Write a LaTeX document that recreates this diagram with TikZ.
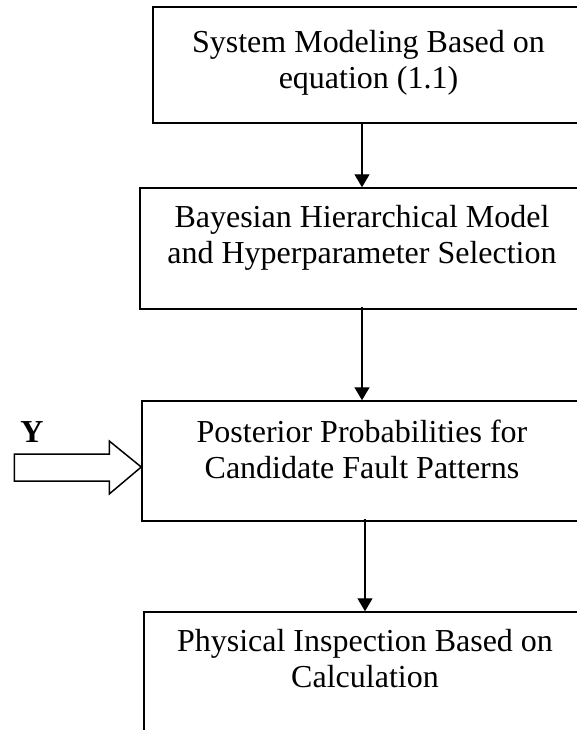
\documentclass[tikz,border=0pt]{standalone}
\usepackage{fontspec}
\setmainfont{Liberation Serif}
\usetikzlibrary{positioning, arrows.meta}

\tikzset{
  block/.style={draw, line width=0.75pt, rectangle, inner sep=0pt},
  blocktext/.style={inner sep=0pt, align=center, anchor=north},
  flow/.style={-{Triangle[length=6.5pt, width=7.5pt]}, line width=0.7pt}
}

\begin{document}
\fontsize{16pt}{18pt}\selectfont
\begin{tikzpicture}[x=0.5pt, y=-0.5pt]
% Frame
\useasboundingbox (0,0) rectangle (577,730);
\clip (0,0) rectangle (577,730);

% Boxes
\node[block, minimum width=215.5pt, minimum height=58pt] (sys) at (368.5,65) {};
\node[block, minimum width=222pt, minimum height=60.5pt] (bhm) at (362,248.5) {};
\node[block, minimum width=220pt, minimum height=60pt] (post) at (362,461) {};
\node[block, minimum width=221pt, minimum height=70pt] (phys) at (365,682) {};

% Box texts
\node[blocktext] (sys-text) at ([yshift=-12pt]sys.north) {System Modeling Based on\\equation (1.1)};
\node[blocktext] (bhm-text) at ([yshift=-9pt]bhm.north) {Bayesian Hierarchical Model\\and Hyperparameter Selection};
\node[blocktext] (post-text) at ([yshift=-9.5pt]post.north) {Posterior Probabilities for\\Candidate Fault Patterns};
\node[blocktext] (phys-text) at ([yshift=-9pt]phys.north) {Physical Inspection Based on\\Calculation};

% Flow
\draw[flow] (sys.south -| bhm.north) -- (bhm.north);
\draw[flow] ([yshift=1.5pt]bhm.south) -- (post.north);
\draw[flow] ([yshift=1.5pt]post.south -| phys.north) -- (phys.north);

% Input Y
\coordinate (yin) at ([yshift=-3pt]post.west);
\draw[line width=0.75pt, line join=miter] (yin) -- ++(-16pt,13pt) -- ++(0,-6.5pt) -- ++(-47.5pt,0) -- ++(0,-13.5pt) -- ++(47.5pt,0) -- ++(0,-6.5pt) -- cycle;
\node[font=\bfseries, anchor=base, inner sep=0pt] (ylabel) at (32,442) {Y};

\end{tikzpicture}
\end{document}
